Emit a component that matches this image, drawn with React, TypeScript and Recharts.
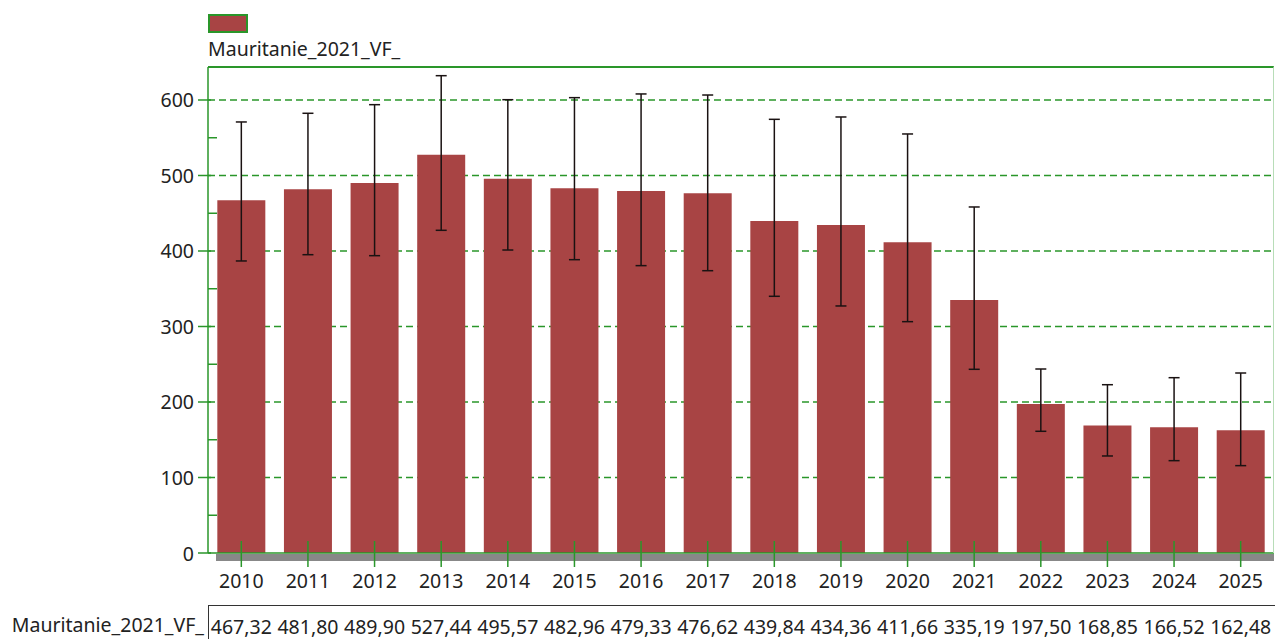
import { Bar, BarChart, CartesianGrid, ErrorBar, XAxis, YAxis } from 'recharts';

const years = ['2010', '2011', '2012', '2013', '2014', '2015', '2016', '2017', '2018', '2019', '2020', '2021', '2022', '2023', '2024', '2025'];
const values = [467.32, 481.8, 489.9, 527.44, 495.57, 482.96, 479.33, 476.62, 439.84, 434.36, 411.66, 335.19, 197.5, 168.85, 166.52, 162.48];
// error bar ends
const lows = [386.8, 395.1, 393.8, 427.4, 401.3, 388.5, 380.6, 373.9, 340.0, 327.2, 306.4, 243.3, 161.2, 128.5, 122.3, 115.7];
const highs = [570.9, 582.4, 593.8, 632.2, 600.4, 603.1, 608.0, 606.6, 574.4, 577.5, 555.0, 458.3, 243.7, 222.9, 232.2, 238.4];
const yTicks = [0, 50, 100, 150, 200, 250, 300, 350, 400, 450, 500, 550, 600];
const gridValues = [100, 200, 300, 400, 500, 600];
const seriesName = 'Mauritanie_2021_VF_';

const FONT = '"Noto Sans", "Open Sans", sans-serif';
const FS = 19.5;
const BAR = '#a84444';
const GREEN = '#2a962a';
const TEXT = '#222';

const data = years.map((year, i) => ({
  year,
  value: values[i],
  err: [values[i] - lows[i], highs[i] - values[i]],
}));

const fmt = (v: number) => v.toFixed(2).replace('.', ',');

function XTick(props: any) {
  const { x, y, payload } = props;
  const idx = payload.index;
  return (
    <g>
      <line x1={x} x2={x} y1={y - 12} y2={y + 14} stroke={GREEN} strokeWidth={1.5} />
      <text x={x} y={y + 27} textAnchor="middle" dominantBaseline="central" fontSize={FS} fill={TEXT} fontFamily={FONT}>
        {payload.value}
      </text>
      <text x={x} y={y + 73} textAnchor="middle" dominantBaseline="central" fontSize={FS} fill={TEXT} fontFamily={FONT}>
        {fmt(values[idx])}
      </text>
    </g>
  );
}

function YTick(props: any) {
  const { x, y, payload } = props;
  const major = payload.value % 100 === 0;
  if (!major) {
    return <line x1={x} x2={x + 9} y1={y} y2={y} stroke={GREEN} strokeWidth={1.5} />;
  }
  return (
    <g>
      <line x1={x - 10} x2={x + 3} y1={y} y2={y} stroke={GREEN} strokeWidth={1.5} />
      <text x={x - 14} y={y} textAnchor="end" dominantBaseline="central" fontSize={FS} fill={TEXT} fontFamily={FONT}>
        {payload.value}
      </text>
    </g>
  );
}

export default function App() {
  return (
    <div style={{ position: 'absolute', left: 0, top: 0, width: 1275, height: 639, overflow: 'hidden', background: '#fff', fontFamily: FONT }}>
      {/* legend swatch + series title */}
      <div style={{ position: 'absolute', left: 208, top: 14, width: 40, height: 19, background: BAR, border: `2px solid ${GREEN}`, boxSizing: 'border-box' }} />
      <div style={{ position: 'absolute', left: 208, top: 36, fontSize: FS, color: TEXT, lineHeight: '26px' }}>{seriesName}</div>

      {/* floor shadow under the bars */}
      <div style={{ position: 'absolute', left: 216, top: 554, width: 1058, height: 7, background: '#888' }} />

      <div style={{ position: 'absolute', left: 0, top: 0 }}>
        <BarChart width={1275} height={639} data={data} margin={{ top: 67, right: 1, bottom: 0, left: 0 }} barCategoryGap="14%">
          <CartesianGrid vertical={false} horizontalValues={gridValues} stroke={GREEN} strokeDasharray="7 4" strokeWidth={1.5} />
          <XAxis
            dataKey="year"
            height={86}
            interval={0}
            tickSize={0}
            tickMargin={0}
            tickLine={false}
            tick={<XTick />}
            axisLine={{ stroke: GREEN, strokeWidth: 1.5 }}
          />
          <YAxis
            width={208}
            domain={[0, 643.7]}
            ticks={yTicks}
            interval={0}
            tickSize={0}
            tickMargin={0}
            tickLine={false}
            tick={<YTick />}
            axisLine={{ stroke: GREEN, strokeWidth: 1.5 }}
          />
          <Bar dataKey="value" fill={BAR} isAnimationActive={false}>
            <ErrorBar dataKey="err" width={5.5} stroke="#1a1212" strokeWidth={1.5} direction="y" isAnimationActive={false} />
          </Bar>
        </BarChart>
      </div>

      {/* plot frame: top and right edges */}
      <div style={{ position: 'absolute', left: 208, top: 66, width: 1066, height: 487, borderTop: `2px solid ${GREEN}`, borderRight: '1px solid #b8ddb8', boxSizing: 'border-box', pointerEvents: 'none' }} />

      {/* data table row */}
      <div style={{ position: 'absolute', left: 208, top: 605, width: 1075, height: 60, border: '1px solid #333', boxSizing: 'border-box' }} />
      <div style={{ position: 'absolute', right: 1275 - 204, top: 612, fontSize: FS, color: TEXT, lineHeight: '26px', whiteSpace: 'nowrap' }}>{seriesName}</div>
    </div>
  );
}
